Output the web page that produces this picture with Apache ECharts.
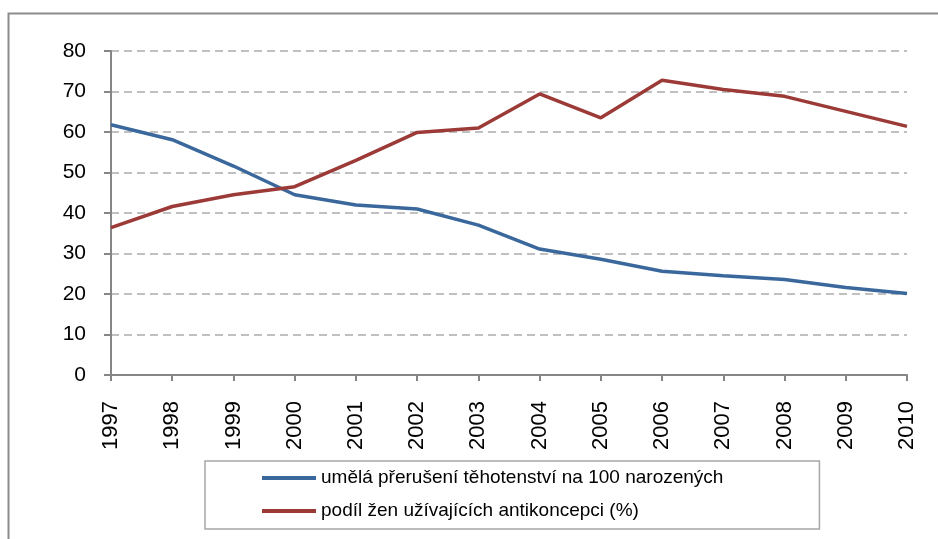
<!DOCTYPE html>
<html><head><meta charset="utf-8">
<script src="https://cdn.jsdelivr.net/npm/echarts@6/dist/echarts.min.js"></script>
<style>html,body{margin:0;padding:0;background:#fff}#c{width:938px;height:539px}</style>
</head><body><div id="c"></div>
<script>
const years = ['1997','1998','1999','2000','2001','2002','2003','2004','2005','2006','2007','2008','2009','2010'];
const abortions = [61.8,58.1,51.6,44.5,42.0,41.0,37.0,31.1,28.6,25.6,24.5,23.6,21.6,20.1];
const contraception = [36.4,41.6,44.5,46.5,53.0,59.9,61.0,69.4,63.5,72.8,70.5,68.8,65.1,61.4];
const seriesNames = ['umělá přerušení těhotenství na 100 narozených','podíl žen užívajících antikoncepci (%)'];
const yTicks = {min:0, max:80, interval:10};

const chart = echarts.init(document.getElementById('c'), null, {renderer:'canvas'});
const font = '"Liberation Sans", Arial, sans-serif';
chart.setOption({
  animation:false,
  backgroundColor:'#fff',
  graphic:[{type:'rect', shape:{x:8.5,y:13.5,width:1000,height:700}, style:{fill:'none',stroke:'#8c8c8c',lineWidth:2}, silent:true}],
  grid:{left:111,right:31,top:51,bottom:164,containLabel:false},
  legend:{
    left:205, top:461, orient:'vertical',
    padding:[7,96,8,57],
    borderColor:'#a6a6a6', borderWidth:1.5,
    itemWidth:54, itemHeight:4, itemGap:13, icon:'rect',
    textStyle:{fontFamily:font,fontSize:19,color:'#000',lineHeight:20},
    data:seriesNames
  },
  xAxis:{
    type:'category', data:years, boundaryGap:false,
    axisLine:{lineStyle:{color:'#868686',width:2}},
    axisTick:{show:true,length:6,lineStyle:{color:'#868686',width:2}},
    axisLabel:{rotate:90,margin:26,fontFamily:font,fontSize:22,color:'#000'}
  },
  yAxis:{
    type:'value', min:yTicks.min, max:yTicks.max, interval:yTicks.interval,
    axisLine:{show:true,lineStyle:{color:'#868686',width:2}},
    axisTick:{show:true,length:7,lineStyle:{color:'#868686',width:2}},
    axisLabel:{margin:25,fontFamily:font,fontSize:21,color:'#000'},
    splitLine:{show:true,lineStyle:{color:'#c0c0c0',width:2,type:[8,5]}}
  },
  series:[
    {name:seriesNames[0],type:'line',data:abortions,symbol:'none',lineStyle:{color:'#3b689c',width:3.5},itemStyle:{color:'#3b689c'}},
    {name:seriesNames[1],type:'line',data:contraception,symbol:'none',lineStyle:{color:'#9c3a37',width:3.5},itemStyle:{color:'#9c3a37'}}
  ]
});
</script></body></html>
